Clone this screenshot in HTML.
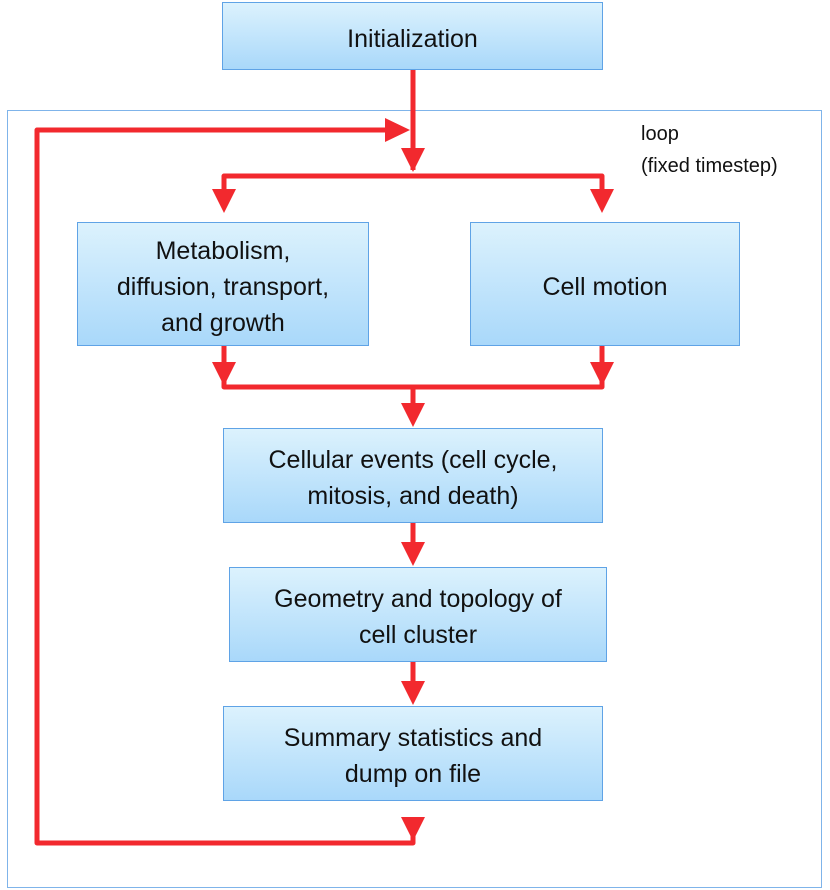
<!DOCTYPE html>
<html><head><meta charset="utf-8"><style>
body{margin:0;width:830px;height:890px;background:#fff;position:relative;overflow:hidden;font-family:"Liberation Sans",sans-serif}
.b{position:absolute;box-sizing:border-box;border:1.5px solid #5fa3e6;background:linear-gradient(#dcf2fd,#a9d8fa);display:flex;align-items:center;justify-content:center;text-align:center;font-size:25px;line-height:36px;color:#111;padding-top:5px}
svg{position:absolute;left:0;top:0}
</style></head><body>
<div style="position:absolute;left:7px;top:110px;width:815px;height:778px;border:1.5px solid #7fb4ea;box-sizing:border-box"></div>
<div class="b" style="left:222px;top:2px;width:381px;height:68px">Initialization</div>
<div class="b" style="left:77px;top:222px;width:292px;height:124px">Metabolism,<br>diffusion, transport,<br>and growth</div>
<div class="b" style="left:470px;top:222px;width:270px;height:124px">Cell motion</div>
<div class="b" style="left:223px;top:428px;width:380px;height:95px">Cellular events (cell cycle,<br>mitosis, and death)</div>
<div class="b" style="left:229px;top:567px;width:378px;height:95px">Geometry and topology of<br>cell cluster</div>
<div class="b" style="left:223px;top:706px;width:380px;height:95px">Summary statistics and<br>dump on file</div>
<div style="position:absolute;left:641px;top:118px;font-size:20px;line-height:32px;color:#111">loop<br>(fixed timestep)</div>
<svg width="830" height="890">
<g stroke="#f2292e" stroke-width="5" fill="none" stroke-linejoin="round">
<path d="M413 70V170"/>
<path d="M224 205V176H602V205"/>
<path d="M385 130H37V843H413V825"/>
<path d="M224 346V387H602V346"/>
<path d="M413 387V420"/>
<path d="M413 523V560"/>
<path d="M413 662V700"/>
</g>
<g fill="#f2292e">
<path d="M401 148h24l-12 24z"/>
<path d="M212 189h24l-12 24z"/>
<path d="M590 189h24l-12 24z"/>
<path d="M385 118v24l25-12z"/>
<path d="M212 362h24l-12 24z"/>
<path d="M590 362h24l-12 24z"/>
<path d="M401 403h24l-12 24z"/>
<path d="M401 542h24l-12 24z"/>
<path d="M401 681h24l-12 24z"/>
<path d="M401 817h24l-12 24z"/>
</g>
</svg>
</body></html>
